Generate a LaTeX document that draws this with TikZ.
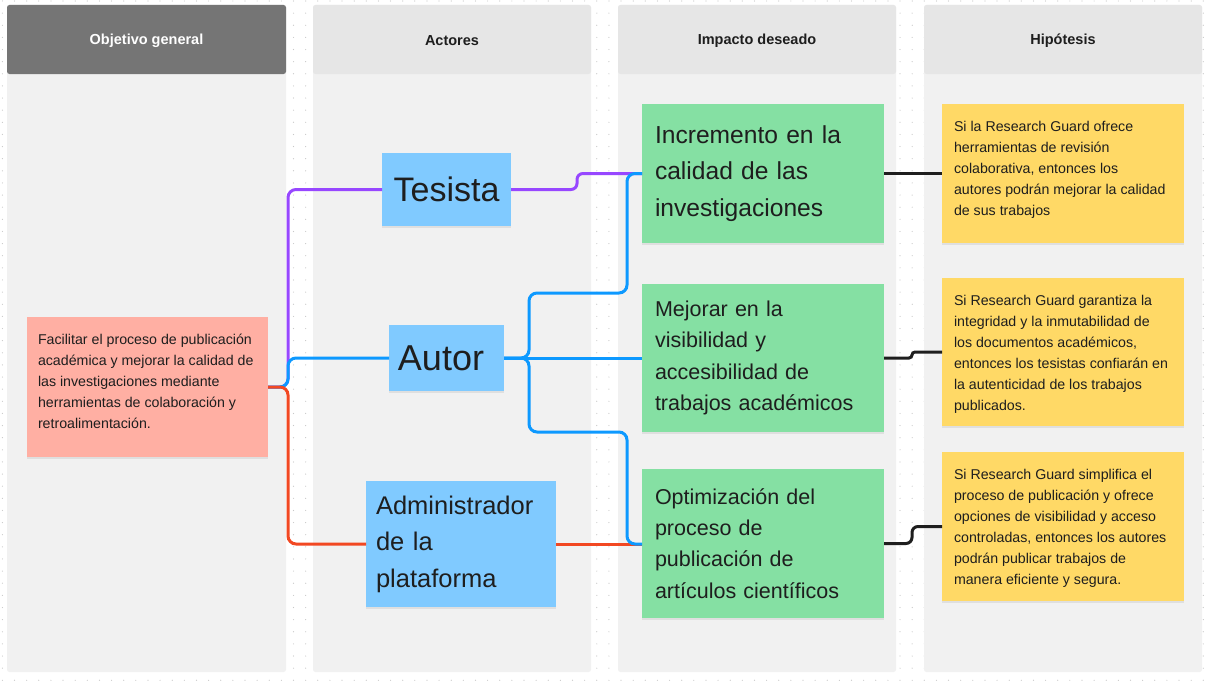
\documentclass[tikz,border=0pt]{standalone}
\usepackage{fontspec}
\setmainfont{Liberation Sans}
\usetikzlibrary{calc}
\definecolor{colbg}{HTML}{F1F1F1}
\definecolor{headlight}{HTML}{E6E6E6}
\definecolor{headdark}{HTML}{757575}
\definecolor{redfill}{HTML}{FFAFA3}
\definecolor{bluefill}{HTML}{80CAFF}
\definecolor{greenfill}{HTML}{85E0A3}
\definecolor{yellowfill}{HTML}{FFD966}
\definecolor{purplec}{HTML}{9747FF}
\definecolor{bluec}{HTML}{0D99FF}
\definecolor{redc}{HTML}{F24822}
\definecolor{blackc}{HTML}{1E1E1E}
\definecolor{textc}{HTML}{1E1E1E}
\definecolor{dotc}{HTML}{C8C8C8}
\newcommand{\smalltext}{\fontsize{14.2}{21}\selectfont}
\newcommand{\stickybox}[3]{\parbox[c][#2pt][t]{#1pt}{\raggedright\smalltext\strut #3}}
\begin{document}
\begin{tikzpicture}[x=1pt,y=-1pt,
  column/.style={fill=colbg, rounded corners=2.5pt},
  headbox/.style={fill=headlight, rounded corners=2.5pt},
  headtext/.style={font=\bfseries\fontsize{14.5}{17}\selectfont, text=textc},
  sticky/.style={anchor=north west, outer sep=0pt, text=textc,
     preaction={fill=black, opacity=0.07, transform canvas={yshift=-1.5pt}}},
  note/.style={sticky, inner xsep=12pt, inner ysep=12.3pt},
  impact/.style={sticky, fill=greenfill, minimum width=242pt, text width=216pt,
     inner xsep=13pt, inner ysep=0pt, align=left},
  actor/.style={sticky, fill=bluefill, inner sep=0pt},
  link/.style={line width=3pt, rounded corners=8pt}
]
\useasboundingbox (0,0) rectangle (1206,685);
\fill[white] (0,0) rectangle (1206,685);
% dotted grid
\foreach \i in {0,...,99}{
  \foreach \j in {0,...,56}{
    \fill[dotc] (2.4+\i*12.13, 1+\j*12.13) circle (0.6);
  }
}
% columns
\fill[column] (7,5) rectangle (286,672);
\fill[column] (313,5) rectangle (591,672);
\fill[column] (618,5) rectangle (896,672);
\fill[column] (924,5) rectangle (1202,672);
\fill[headbox, fill=headdark] (7,5) rectangle (286,74);
\fill[headbox] (313,5) rectangle (591,74);
\fill[headbox] (618,5) rectangle (896,74);
\fill[headbox] (924,5) rectangle (1202,74);
\node[headtext, text=white] (h1) at (146.5,41) {Objetivo general};
\node[headtext] (h2) at (452,41) {Actores};
\node[headtext] (h3) at (757,41) {Impacto deseado};
\node[headtext] (h4) at (1063,41) {Hipótesis};

% objective
\node[note, fill=redfill, inner xsep=11pt] (obj) at (27,317)
  {\stickybox{219}{115.4}{Facilitar el proceso de publicación\\académica y mejorar la calidad de\\las investigaciones mediante\\herramientas de colaboración y\\retroalimentación.}};

% actors
\node[actor, minimum width=129pt, minimum height=73pt, font=\fontsize{34}{40}\selectfont] (tesista) at (382,153) {Tesista};
\node[actor, minimum width=115pt, minimum height=66pt, font=\fontsize{36}{42}\selectfont] (autor) at (389,325) {\hspace*{-11pt}Autor};
\node[actor, minimum width=190pt, minimum height=126pt, text width=170pt, inner xsep=10pt, align=left,
      font=\fontsize{25.5}{36.5}\selectfont] (admin) at (366,481) {Administrador\\de la\\plataforma};

% impacts
\node[impact, minimum height=139pt, font=\fontsize{24.6}{36.5}\selectfont] (g1) at (642,104)
  {Incremento en la\\calidad de las\\investigaciones};
\node[impact, minimum height=148pt, font=\fontsize{21.5}{31.3}\selectfont] (g2) at (642,284)
  {Mejorar en la\\visibilidad y\\accesibilidad de\\trabajos académicos};
\node[impact, minimum height=149pt, font=\fontsize{21.5}{31.3}\selectfont] (g3) at (642,469)
  {Optimización del\\proceso de\\publicación de\\artículos científicos};

% hypotheses
\node[note, fill=yellowfill] (y1) at (942,104)
  {\stickybox{218}{114.4}{Si la Research Guard ofrece\\herramientas de revisión\\colaborativa, entonces los\\autores podrán mejorar la calidad\\de sus trabajos}};
\node[note, fill=yellowfill] (y2) at (942,278)
  {\stickybox{218}{123.4}{Si Research Guard garantiza la\\integridad y la inmutabilidad de\\los documentos académicos,\\entonces los tesistas confiarán en\\la autenticidad de los trabajos\\publicados.}};
\node[note, fill=yellowfill] (y3) at (942,452)
  {\stickybox{218}{124.4}{Si Research Guard simplifica el\\proceso de publicación y ofrece\\opciones de visibilidad y acceso\\controladas, entonces los autores\\podrán publicar trabajos de\\manera eficiente y segura.}};

% bend coordinates
\coordinate (hub) at (288,387);
\coordinate (j1) at (577,0);
\coordinate (b1) at (529,293);
\coordinate (b2) at (529,432);
\coordinate (j3) at (627,0);
\coordinate (j4) at (912,0);

% connectors
\draw[link, purplec] (obj.east) -| (hub |- tesista.west) -- (tesista.west);
\draw[link, bluec] (obj.east) -| (hub |- autor.west) -- (autor.west);
\draw[link, redc] (obj.east) -| (hub |- admin.west) -- (admin.west);

\draw[link, purplec, rounded corners=6pt] (tesista.east) -| (j1 |- g1.west) -- (g1.west);
\draw[link, redc] (admin.east) -- (admin.east -| g3.west);
\draw[link, bluec] (autor.east) -| (b1) -| (j3 |- g1.west) -- (g1.west);
\draw[link, bluec] (autor.east) -- (autor.east -| g2.west);
\draw[link, bluec] (autor.east) -| (b2) -| (j3 |- admin.east) -- (admin.east -| g3.west);

\draw[link, blackc] (g1.east) -- (y1.west);
\draw[link, blackc, rounded corners=3pt] (g2.east) -| (j4 |- y2.west) -- (y2.west);
\draw[link, blackc, rounded corners=6pt] (g3.east) -| (j4 |- y3.west) -- (y3.west);
\end{tikzpicture}
\end{document}
